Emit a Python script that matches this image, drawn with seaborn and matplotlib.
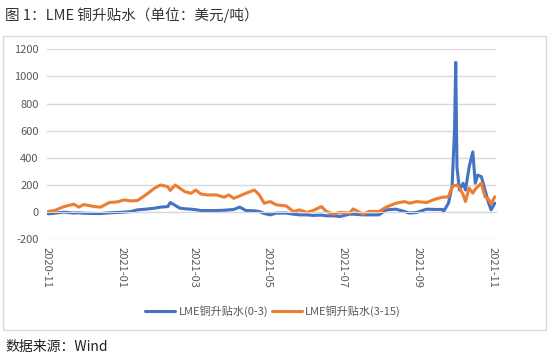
import pandas as pd
import numpy as np
import matplotlib
matplotlib.use('Agg')
import matplotlib.pyplot as plt
import matplotlib.dates as mdates
from matplotlib.patches import Rectangle
import seaborn as sns

# Data (USD/t)
dates = [
    '2020-11-02', '2020-11-07', '2020-11-15', '2020-11-23', '2020-11-27', '2020-12-01',
    '2020-12-10', '2020-12-15', '2020-12-22', '2020-12-29', '2021-01-03', '2021-01-09',
    '2021-01-14', '2021-01-21', '2021-01-28', '2021-02-02', '2021-02-08', '2021-02-10',
    '2021-02-14', '2021-02-18', '2021-02-22', '2021-02-27', '2021-03-03', '2021-03-07',
    '2021-03-12', '2021-03-20', '2021-03-26', '2021-03-30', '2021-04-03', '2021-04-08',
    '2021-04-13', '2021-04-20', '2021-04-24', '2021-04-28', '2021-05-03', '2021-05-08',
    '2021-05-16', '2021-05-22', '2021-05-27', '2021-06-02', '2021-06-07', '2021-06-14',
    '2021-06-18', '2021-06-24', '2021-06-29', '2021-07-07', '2021-07-10', '2021-07-18',
    '2021-07-23', '2021-07-31', '2021-08-06', '2021-08-14', '2021-08-21', '2021-08-25',
    '2021-08-31', '2021-09-08', '2021-09-15', '2021-09-21', '2021-09-22', '2021-09-26',
    '2021-09-29', '2021-10-01', '2021-10-02', '2021-10-03', '2021-10-05', '2021-10-08',
    '2021-10-10', '2021-10-13', '2021-10-16', '2021-10-18', '2021-10-20', '2021-10-23',
    '2021-10-26', '2021-10-29', '2021-10-31', '2021-11-03',
]
cash_3m = [
    -12, -8, 0, -7, -5, -8, -10, -10, -5, -2, 0, 5,
    17, 22, 29, 37, 41, 71, 50, 29, 25, 22, 18, 12,
    12, 12, 14, 17, 20, 37, 12, 10, 5, -10, -20, -7,
    -7, -15, -20, -20, -24, -22, -27, -27, -32, -15, -15, -20,
    -20, -20, 17, 22, 5, -7, -2, 22, 20, 20, 4, 66,
    188, 600, 1104, 334, 163, 213, 163, 334, 444, 213, 273, 261,
    163, 66, 17, 66,
]
m3_15 = [
    5, 12, 41, 59, 37, 56, 41, 37, 71, 76, 90, 83,
    85, 127, 176, 200, 188, 160, 200, 176, 151, 139, 163, 134,
    127, 127, 110, 127, 102, 120, 139, 163, 127, 66, 78, 54,
    46, 5, 17, -2, 12, 41, 5, -15, -2, -7, 24, -15,
    5, 5, 37, 66, 78, 66, 78, 71, 95, 110, 110, 113,
    188, 195, 198, 200, 180, 130, 78, 178, 140, 170, 188, 213,
    113, 95, 60, 113,
]
series_names = ['LME铜升贴水(0-3)', 'LME铜升贴水(3-15)']
series_colors = ['#4472C4', '#ED7D31']

df = pd.DataFrame({'date': pd.to_datetime(dates), 'a': cash_3m, 'b': m3_15})

sns.set_style('white')
plt.rcParams['font.family'] = ['Noto Sans CJK SC', 'DejaVu Sans']
plt.rcParams['axes.unicode_minus'] = False

fig = plt.figure(figsize=(5.5, 3.62), dpi=100)
ax = fig.add_axes([47 / 550, 1 - 239.3 / 362, 449 / 550, 190 / 362])

# outer chart frame
fig.patches.append(Rectangle((3 / 550, 1 - 330 / 362), 542.7 / 550, 294.3 / 362,
                             transform=fig.transFigure, fill=False,
                             edgecolor='#d9d9d9', linewidth=1, zorder=0))

sns.lineplot(data=df, x='date', y='a', ax=ax, color=series_colors[0],
             linewidth=2.2, label=series_names[0])
sns.lineplot(data=df, x='date', y='b', ax=ax, color=series_colors[1],
             linewidth=2.2, label=series_names[1])
ax.get_legend().remove()

ax.set_ylim(-200, 1200)
ax.set_yticks(np.arange(-200, 1201, 200))
ax.set_xlim(pd.Timestamp('2020-11-01'), pd.Timestamp('2021-11-04'))
ax.xaxis.set_major_locator(mdates.MonthLocator(bymonth=[1, 3, 5, 7, 9, 11]))
ax.xaxis.set_major_formatter(mdates.DateFormatter('%Y-%m'))

ax.grid(axis='y', color='#d9d9d9', linewidth=1)
ax.set_axisbelow(True)
for s in ['top', 'right', 'left']:
    ax.spines[s].set_visible(False)
ax.spines['bottom'].set_position(('data', 0))
ax.spines['bottom'].set_color('#d9d9d9')

ax.tick_params(axis='y', length=0, pad=6, labelsize=8, labelcolor='#595959')
ax.tick_params(axis='x', length=3, color='#bfbfbf', pad=22, labelsize=8,
               labelcolor='#595959', labelrotation=270)
ax.set_xlabel('')
ax.set_ylabel('')

fig.legend(loc='center', bbox_to_anchor=(273 / 550, 1 - 311 / 362), ncol=2,
           frameon=False, fontsize=8, handlelength=2.7, columnspacing=0.3,
           handletextpad=0.3, labelcolor='#595959')

fig.text(5 / 550, 1 - 15 / 362, '图 1：LME 铜升贴水（单位：美元/吨）',
         fontsize=10.5, color='#333333', va='center', ha='left')
fig.text(5 / 550, 1 - 347 / 362, '数据来源：Wind',
         fontsize=10, color='#222222', va='center', ha='left')

fig.savefig('out.png', dpi=100)
